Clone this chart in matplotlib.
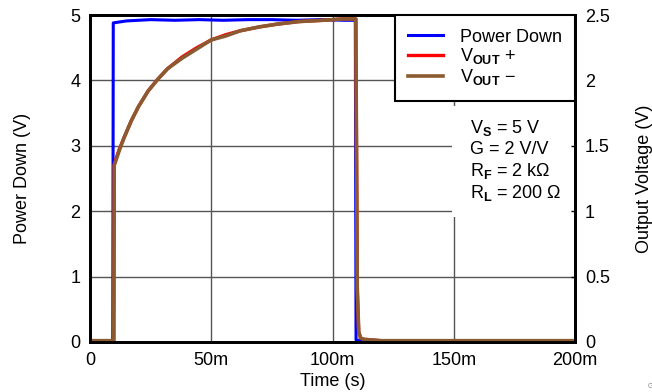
import matplotlib
matplotlib.use('Agg')
import matplotlib.pyplot as plt
from matplotlib.patches import Rectangle

plt.rcParams['font.family'] = ['Liberation Sans', 'DejaVu Sans']
plt.rcParams['mathtext.fontset'] = 'custom'
plt.rcParams['mathtext.rm'] = 'Liberation Sans'
plt.rcParams['mathtext.bf'] = 'Liberation Sans:bold'
plt.rcParams['mathtext.it'] = 'Liberation Sans:italic'

# Daten (Zeit in ms)
t_pd = [0, 9.4, 9.6, 15, 25, 35, 45, 55, 65, 75, 85, 95, 105, 109.4, 109.7, 112, 200]
power_down = [0.02, 0.02, 4.88, 4.91, 4.93, 4.92, 4.93, 4.92, 4.93, 4.93, 4.92, 4.93, 4.92, 4.92, 0.03, 0.02, 0.02]

t_out = [0, 9.8, 10.0, 12, 14, 17, 20, 24, 28, 32, 38, 44, 50, 56, 62, 70, 77, 86, 96, 104,
         109.6, 110.2, 110.8, 111.6, 113, 120, 200]
vout_pos = [0.01, 0.01, 1.36, 1.47, 1.56, 1.69, 1.80, 1.92, 2.01, 2.09, 2.18, 2.25, 2.31, 2.35, 2.38,
            2.41, 2.43, 2.45, 2.46, 2.47, 2.47, 0.40, 0.07, 0.03, 0.02, 0.01, 0.01]
vout_neg = [0.01, 0.01, 1.35, 1.46, 1.56, 1.69, 1.80, 1.92, 2.01, 2.09, 2.17, 2.24, 2.31, 2.34, 2.38,
            2.41, 2.43, 2.45, 2.46, 2.47, 2.47, 0.42, 0.08, 0.03, 0.02, 0.01, 0.01]

x_ticks = [0, 50, 100, 150, 200]
x_labels = ['0', '50m', '100m', '150m', '200m']
left_ticks = [0, 1, 2, 3, 4, 5]
right_ticks = [0, 0.5, 1, 1.5, 2, 2.5]
right_labels = ['0', '0.5', '1', '1.5', '2', '2.5']
cond_lines = [r'V$_{\mathbf{S}}$ = 5 V', 'G = 2 V/V', r'R$_{\mathbf{F}}$ = 2 k$\Omega$', r'R$_{\mathbf{L}}$ = 200 $\Omega$']

fig = plt.figure(figsize=(6.52, 3.92), dpi=100)
ax = fig.add_axes([0.138, 0.1276, 0.744, 0.834])
ax2 = ax.twinx()

fs = 13
ax.set_xlim(0, 200)
ax.set_ylim(0, 5)
ax2.set_ylim(0, 2.5)
ax.set_xticks(x_ticks)
ax.set_xticklabels(x_labels, fontsize=fs)
ax.set_yticks(left_ticks)
ax.set_yticklabels([str(v) for v in left_ticks], fontsize=fs)
ax2.set_yticks(right_ticks)
ax2.set_yticklabels(right_labels, fontsize=fs)
ax.tick_params(axis='x', length=0, pad=7.5)
ax.tick_params(axis='y', length=0, pad=7)
ax2.tick_params(axis='y', direction='in', length=3, width=1, pad=7)

ax.set_axisbelow(True)
ax.grid(True, color='#555555', linewidth=1.0)

for a in (ax, ax2):
    for s in a.spines.values():
        s.set_linewidth(2.0)

# weißer Hintergrund für Bedingungen
ax.add_patch(Rectangle((0.746, 0.382), 0.26, 0.34, transform=ax.transAxes,
                       facecolor='white', edgecolor='none', zorder=1))

l1, = ax.plot(t_pd, power_down, color='#0000ff', linewidth=2.2, label='Power Down', zorder=3)
l2, = ax2.plot(t_out, vout_pos, color='#ff0000', linewidth=2.4, label=r'V$_{\mathbf{OUT}}$ +')
l3, = ax2.plot(t_out, vout_neg, color='#8B5A30', linewidth=2.6, label=r'V$_{\mathbf{OUT}}$ $-$')

leg = ax2.legend(handles=[l1, l2, l3], loc='upper right', bbox_to_anchor=(1.0, 1.0),
                 fontsize=fs, frameon=True, fancybox=False, borderaxespad=0,
                 handlelength=1.95, handletextpad=0.9, labelspacing=0.05, borderpad=0.75)
leg.get_frame().set_edgecolor('black')
leg.get_frame().set_linewidth(1.5)
leg.get_frame().set_alpha(1)

for i, line in enumerate(cond_lines):
    ax.text(0.784, 0.655 - i * 0.066, line, transform=ax.transAxes, fontsize=fs,
            va='center', ha='left', zorder=4)

ax.set_xlabel('Time (s)', fontsize=fs)
ax.xaxis.set_label_coords(0.5, -0.095)
ax.set_ylabel('Power Down (V)', fontsize=fs)
ax.yaxis.set_label_coords(-0.122, 0.5)
ax2.set_ylabel('Output Voltage (V)', fontsize=fs)
ax2.yaxis.set_label_coords(1.126, 0.5)

fig.text(0.993, 0.01, 'G', fontsize=5, color='gray')

fig.savefig('out.png', dpi=100)
